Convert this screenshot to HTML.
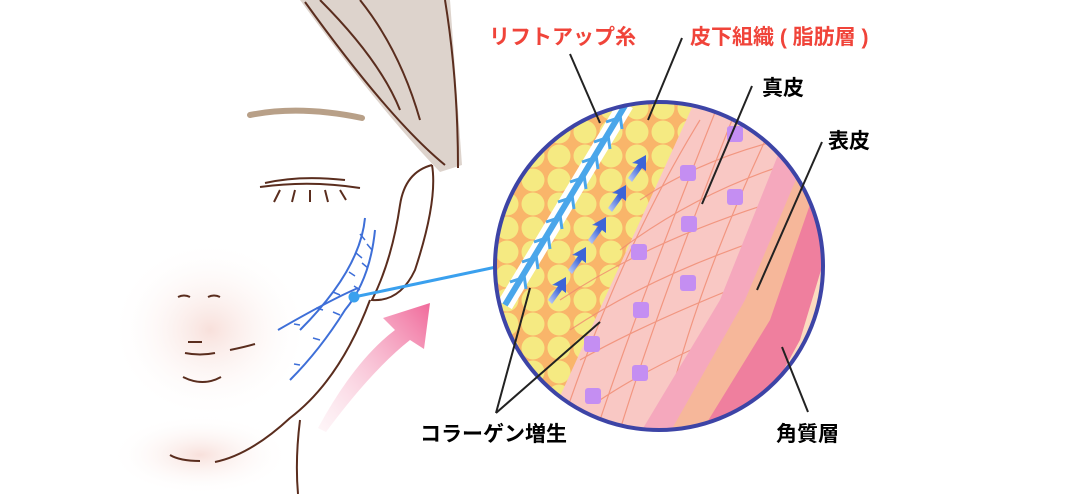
<!DOCTYPE html>
<html><head><meta charset="utf-8"><style>
html,body{margin:0;padding:0;background:#fff;width:1080px;height:494px;overflow:hidden}
svg{display:block}
text{font-family:"Liberation Sans","Noto Sans CJK JP",sans-serif;font-weight:bold;font-size:21px}
</style></head><body>
<svg width="1080" height="494" viewBox="0 0 1080 494" xmlns="http://www.w3.org/2000/svg">
<defs>
<clipPath id="c"><circle cx="659" cy="266" r="164"/></clipPath>
<radialGradient id="blush" cx="0.5" cy="0.5" r="0.5"><stop offset="0" stop-color="#f8e0db"/><stop offset="1" stop-color="#fff" stop-opacity="0"/></radialGradient>
<linearGradient id="pk" x1="0" y1="1" x2="1" y2="0"><stop offset="0" stop-color="#fbe0e8" stop-opacity="0.3"/><stop offset="1" stop-color="#f0699a"/></linearGradient>
<linearGradient id="ar" x1="0" y1="1" x2="1" y2="0"><stop offset="0" stop-color="#c9d7fb"/><stop offset="0.6" stop-color="#3c64d8"/></linearGradient>
<pattern id="fat" width="26" height="24" patternUnits="userSpaceOnUse"><rect width="26" height="24" fill="#f9b56a"/><circle cx="13" cy="12" r="11.5" fill="#f5ea82"/></pattern>
</defs>
<!-- face -->
<ellipse cx="210" cy="330" rx="100" ry="90" fill="url(#blush)"/>
<ellipse cx="200" cy="455" rx="90" ry="40" fill="url(#blush)"/>
<path d="M300 0 L450 0 L462 165 L440 172 Q380 110 300 0Z" fill="#ddd3cc"/>
<g fill="none" stroke="#5a2d1e" stroke-width="2">
<path d="M305 2 Q390 120 445 165"/><path d="M320 0 Q380 60 400 110"/><path d="M360 0 Q400 50 420 120"/>
<path d="M445 0 Q458 80 458 168"/><path d="M432 165 Q405 172 400 205 Q392 260 372 300 Q400 302 415 270 Q438 200 432 165"/>
<path d="M265 183 Q300 175 345 180"/><path d="M260 187 Q310 180 360 188"/>
<path d="M280 190 l-6 12 M295 190 l-3 12 M310 190 l0 12 M325 190 l3 12 M340 190 l6 10"/>
<path d="M178 297 q6-3 12 0 M208 297 q6-3 12 0 M188 342 h14 M185 353 q15 3 30 0 M230 350 q15-3 25-6 M183 377 q20 10 38 0"/>
<path d="M370 300 Q340 380 290 418 Q250 455 215 462 M170 455 q10 6 30 6 M300 420 Q295 460 298 494"/>
</g>
<path d="M250 115 Q300 105 362 118" stroke="#b8a088" stroke-width="6" fill="none" stroke-linecap="round"/>
<path d="M318 428 Q355 360 395 330 L383 318 L430 303 L424 349 L410 340 Q372 370 326 432Z" fill="url(#pk)"/>
<g fill="none" stroke="#3e6fd8" stroke-width="2">
<path d="M365 218 Q360 270 300 330 M375 230 Q370 280 345 310 Q320 350 290 380"/>
<path d="M278 330 Q330 300 358 288"/>
</g>
<g stroke="#3e6fd8" stroke-width="1.5"><path d="M365 240 l-5-6 M362 258 l-6-5 M355 276 l-6-4 M340 295 l-7-3 M323 310 l-7-2 M300 325 l-6-1 M372 250 l-5-6 M368 268 l-6-5 M360 290 l-6-4 M340 315 l-7-3 M320 340 l-7-2 M300 365 l-6-1"/></g>
<circle cx="354" cy="297" r="5.5" fill="#3aa0ee"/>
<line x1="354" y1="297" x2="520" y2="262" stroke="#3aa0ee" stroke-width="3"/>
<!-- circle -->
<g clip-path="url(#c)">
<rect x="480" y="90" width="360" height="360" fill="#f9c8c4"/>
<polygon points="480,90 700,90 540,440 480,440" fill="url(#fat)"/>
<g stroke="#f08a70" stroke-width="1.2" fill="none" opacity="0.8">
<path d="M600 420 Q640 300 720 100 M620 430 Q660 300 740 100 M560 430 Q620 250 700 120 M660 440 Q690 300 770 130"/>
<path d="M560 300 Q650 240 780 200 M570 330 Q660 270 790 230 M580 360 Q650 320 780 270 M600 400 Q660 360 760 320 M620 250 Q700 190 800 160 M640 200 Q700 160 780 140"/>
</g>
<polygon points="780,150 840,180 840,450 630,450 720,300" fill="#f5a8bd"/>
<polygon points="800,170 840,190 840,450 660,450 745,300" fill="#f6b79a"/>
<polygon points="815,190 840,210 840,450 690,450 770,320" fill="#ef7f9e"/>
<polygon points="830,240 840,250 840,450 740,450 800,340" fill="#fbdcc0"/>
<g fill="#c48ef2"><rect x="727" y="126" width="16" height="16" rx="3"/><rect x="680" y="165" width="16" height="16" rx="3"/><rect x="727" y="189" width="16" height="16" rx="3"/><rect x="681" y="216" width="16" height="16" rx="3"/><rect x="631" y="244" width="16" height="16" rx="3"/><rect x="680" y="275" width="16" height="16" rx="3"/><rect x="633" y="302" width="16" height="16" rx="3"/><rect x="584" y="336" width="16" height="16" rx="3"/><rect x="632" y="365" width="16" height="16" rx="3"/><rect x="585" y="388" width="16" height="16" rx="3"/></g>
<g fill="url(#ar)"><path d="M548 300 l10-14 l-6-1 l14-8 l0 16 l-4-3 l-10 14z"/><path d="M568 270 l10-14 l-6-1 l14-8 l0 16 l-4-3 l-10 14z"/><path d="M588 240 l10-14 l-6-1 l14-8 l0 16 l-4-3 l-10 14z"/><path d="M608 208 l10-14 l-6-1 l14-8 l0 16 l-4-3 l-10 14z"/><path d="M628 178 l10-14 l-6-1 l14-8 l0 16 l-4-3 l-10 14z"/></g>
<path d="M626 104 L505 305" stroke="#fff" stroke-width="16"/>
<path d="M626 104 L505 305" stroke="#4aa6ea" stroke-width="6"/>
<g stroke="#4aa6ea" stroke-width="3" fill="none"><path d="M618 118 l-12 4 M606 138 l-12 4 M594 158 l-12 4 M582 178 l-12 4 M570 198 l-12 4 M558 218 l-12 4 M546 238 l-12 4 M534 258 l-12 4 M522 278 l-12 4 M620 115 l2 14 M608 135 l2 14 M596 155 l2 14 M584 175 l2 14 M572 195 l2 14 M560 215 l2 14 M548 235 l2 14 M536 255 l2 14 M524 275 l2 14"/></g>
</g>
<circle cx="659" cy="266" r="164" fill="none" stroke="#3d44a6" stroke-width="4"/>
<!-- leader lines -->
<g stroke="#222" stroke-width="2"><line x1="570" y1="54" x2="600" y2="123"/><line x1="682" y1="38" x2="648" y2="120"/><line x1="752" y1="86" x2="702" y2="204"/><line x1="822" y1="142" x2="757" y2="290"/><line x1="782" y1="347" x2="808" y2="412"/><line x1="530" y1="288" x2="496" y2="413"/><line x1="600" y1="322" x2="496" y2="413"/></g>
<text x="489" y="44" fill="#f0443a">リフトアップ糸</text>
<text x="690" y="44" fill="#f0443a">皮下組織 ( 脂肪層 )</text>
<text x="762" y="95">真皮</text>
<text x="828" y="148">表皮</text>
<text x="776" y="441">角質層</text>
<text x="420" y="441">コラーゲン増生</text>
</svg>
</body></html>
